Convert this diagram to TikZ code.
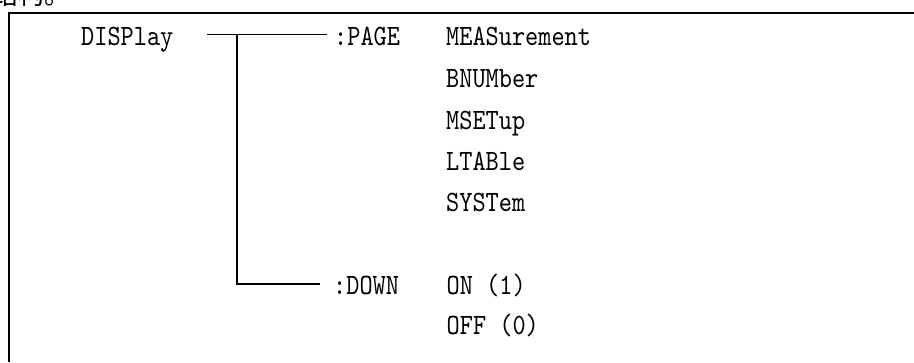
\documentclass[tikz,border=0pt]{standalone}
\usepackage{fontspec}
\setmonofont{lmmono10-regular.otf}[FakeStretch=0.85]
\newfontfamily\cjkfont{Noto Sans CJK SC}
\usetikzlibrary{positioning}

\begin{document}
\begin{tikzpicture}[x=1pt, y=-1pt,
    cmd/.style={font=\ttfamily\fontsize{29.5}{34}\selectfont, inner sep=0pt, anchor=base west},
    link/.style={line width=1.9pt}]
\useasboundingbox (0,0) rectangle (914,362);
\clip (0,0) rectangle (914,362);

% caption cut by the top edge
\node[font=\cjkfont\fontsize{26}{26}\selectfont, inner sep=0pt, anchor=base west] (cap) at (-8,4) {结构。};

% frame (top and left sides in view)
\draw[line width=2pt] (914,12.5) -- (9,12.5) -- (9,362);

% command root and subnodes
\node[cmd] (disp) at (81,45) {DISPlay};
\node[cmd] (page) at (334,45) {:PAGE};
\node[cmd] (down) at (333,294) {:DOWN};

% parameters of :PAGE
\foreach \name/\txt/\y in {meas/MEASurement/45, bnum/BNUMber/87, mset/MSETup/129,
                           ltab/LTABle/170, syst/SYSTem/211} {
    \node[cmd] (\name) at (446,\y) {\txt};
}

% parameters of :DOWN
\node[cmd] (on) at (446.5,294) {ON (1)};
\node[cmd] (off) at (446.5,334) {OFF (0)};

% tree lines
\coordinate (lstart) at (207,34.5);
\coordinate (tee) at (237,34.5);
\coordinate (pend) at (327,34.5);
\coordinate (corner) at (237,284);
\coordinate (dend) at (320,284);
\draw[link] (lstart) -- (pend);
\draw[link] (tee) -- (corner) -- (dend);

\end{tikzpicture}
\end{document}
